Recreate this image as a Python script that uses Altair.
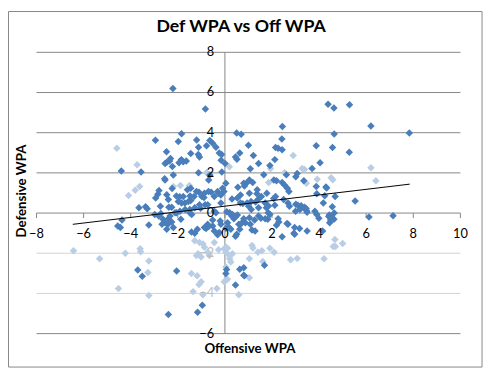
import altair as alt
import pandas as pd

# ---- data ----
dark_x = [
    -2.21, -0.83, -2.95, -1.84, -1.98, -1.20, -0.78, -0.64, -0.52, -0.38, -1.12, -0.24, -0.14,
    -2.48, -1.45, -1.13, -1.08, -2.31, -2.35, -2.47, -2.54, -2.23, -1.85, -1.77, -1.95, -1.64,
    -0.16, 0.01, -3.56, -4.40, -2.19, -2.56, -2.54, -0.64, -0.69, -1.12, -0.13, 0.04, -2.24,
    -2.80, -2.85, -2.94, -2.47, -2.06, -1.92, -1.48, -1.10, -0.70, -0.58, -0.27, -0.17, -0.04,
    0.55, 0.80, 0.30, -0.89, -0.84, -1.84, -1.55, -2.38, -1.69, -1.03, -3.65, -3.37, -3.30,
    -0.45, 0.08, 0.21, -1.77, -1.59, -1.45, -1.31, -1.21, -0.98, -0.87, -0.45, -0.31, -0.10,
    -1.98, -1.70, -1.45, -0.73, -1.49, -1.28, -1.08, -0.17, -2.40, -2.26, -2.74,
    # upper right
    4.38, 4.63, 5.29, 6.20, 7.83, 4.64, 2.44, 2.42, 0.50, 0.69, 1.00, 0.63, 0.45, 0.51, 1.21,
    2.15, 2.26, 2.43, 2.12, 3.88, 4.57, 5.28, 4.04, 3.70, 1.43, 1.91, 1.08, 1.65, 3.07, 3.01,
    2.61, 4.29, 3.88, 3.35, 2.08, 2.19, 2.43, 2.54, 2.65, 2.72, 2.49, 2.15, 2.07, 1.78, 1.37,
    1.36, 1.55, 1.43, 1.18, 1.04, 0.91, 0.83, 1.04, 0.66, 0.53, 1.11, 0.94, 1.30, 1.71, 2.12,
    1.76, 1.85, 3.01, 3.24, 3.45, 3.90, 4.24, 4.68, 4.32, 4.18, 4.56, 5.53, 3.00, 3.82, 4.43,
    4.64, 6.12, 7.14, 2.74, 3.10, 3.38, 3.46, 0.66, 0.76, 1.01, 1.12, 1.43, 2.68, 3.19, 3.49,
    1.84, 0.20,
    # lower right
    3.90, 3.99, 4.41, 4.56, 4.63, 4.45, 4.49, 2.68, 2.96, 3.17, 2.96, 3.49, 4.15, 2.93, 2.43,
    2.64, 2.19, 2.26, 2.29, 1.91, 1.43, 1.53, 1.71, 1.82, 1.26, 1.04, 1.08, 1.15, 1.28, 0.80,
    0.73, 0.66, 0.87, 0.45, 0.53, 0.38, 0.29, 0.11, 0.18, 0.25, 0.45, 0.63, 0.83, 1.68, 0.07,
    0.04, 0.45, 0.80, 0.80, 0.04, 0.32, 0.50, 0.59, 0.63,
    # lower left
    -2.40, -0.96, -1.16, -3.70, -3.51, -2.05, -4.55, -4.44, -4.37, -3.23, -2.98, -2.81, -2.72,
    -2.63, -2.54, -2.67, -2.42, -2.40, -2.33, -2.26, -2.12, -2.47, -2.19, -1.87, -1.91, -1.49,
    -1.41, -1.42, -1.28, -1.17, -0.80, -0.69, -0.52, -0.38, -0.20, -0.17, -0.24, -0.31, -0.87,
    -0.73, -0.52, -0.45, -2.05,
]
dark_y = [
    6.20, 5.18, 3.62, 3.95, 3.56, 3.64, 3.35, 3.61, 3.48, 3.28, 3.28, 2.99, 2.91,
    3.05, 2.96, 2.91, 2.79, 2.71, 2.59, 2.53, 2.47, 2.32, 2.66, 2.55, 2.50, 2.59,
    2.63, 2.47, 2.04, 2.09, 1.89, 1.71, 1.65, 1.89, 1.65, 2.01, 2.04, 1.49, 1.22,
    1.12, 0.94, 0.75, 0.91, 0.85, 0.81, 0.85, 1.04, 1.07, 1.04, 0.99, 0.90, 1.07,
    1.29, 1.49, 0.70, 0.78, 0.41, 0.50, 0.57, 0.29, 0.18, 0.24, 0.26, 0.31, 0.21,
    0.09, 0.06, -0.02, 0.83, 1.16, 1.24, 0.83, 1.07, 0.83, 0.99, 0.83, 1.07, 1.24,
    0.58, 0.50, 0.62, 0.42, 0.18, 0.26, 0.42, 0.50, 0.67, 0.29, 0.34,
    # upper right
    5.42, 5.23, 5.39, 4.33, 3.98, 3.93, 4.31, 3.69, 3.98, 3.92, 3.38, 2.99, 2.79, 2.68, 2.87,
    3.26, 3.23, 3.15, 2.66, 3.35, 3.26, 3.03, 2.50, 2.22, 2.47, 2.37, 2.20, 1.91, 1.97, 1.81,
    1.91, 1.30, 1.32, 1.61, 1.65, 1.61, 1.52, 1.39, 1.24, 1.07, 0.68, 0.83, 0.73, 0.99, 1.16,
    0.96, 0.83, 0.70, 1.52, 1.65, 1.49, 1.35, 0.99, 0.90, 0.75, 0.58, 0.50, 0.55, 0.50, 0.39,
    0.26, 0.35, 0.44, 0.36, 0.23, 0.96, 0.86, 0.83, 1.25, 0.50, 0.32, 0.60, 0.09, 0.09, -0.10,
    0.00, -0.20, -0.13, 0.34, 0.39, 0.29, 0.13, 0.50, 0.47, 0.34, 0.18, 0.26, 0.50, 0.18, 0.04,
    0.01, 0.01,
    # lower right
    -0.07, -0.26, -0.17, -0.23, -0.31, -0.48, -0.35, -0.56, -0.72, -0.77, -1.05, -0.89, -0.89, -1.00, -1.18,
    -0.52, -0.61, -0.28, -0.44, -0.07, -0.15, -0.26, -0.28, -0.31, -0.35, -0.23, -0.56, -0.84, -0.89, -0.28,
    -0.48, -0.56, -0.48, -0.18, -0.10, -0.28, -0.15, -0.48, -0.72, -0.80, -1.16, -2.80, -3.12, -2.60, -2.81,
    -3.01, -3.58, -3.09, -2.72, -0.75, -0.07, -1.05, -0.56, -0.80,
    # lower left
    -5.05, -4.59, -4.94, -2.83, -3.14, -2.88, -0.64, -0.72, -0.35, -0.59, -0.07, -0.15, -0.02,
    -0.31, -0.48, -0.56, -0.56, -0.28, -0.15, -0.44, 0.01, -0.80, -0.72, -0.31, 0.09, 0.01,
    -0.07, -0.94, -1.01, -0.80, -0.77, -0.67, -0.35, 0.01, -0.40, -0.56, -0.97, -1.08, -0.72,
    -0.56, -0.64, -0.89, 0.01,
]
light_x = [
    -4.59, -3.73, -0.78, 0.19, -2.19, -1.89, -1.51, -3.62, -3.81, -4.09, 2.90, 1.94, 3.28, 3.38,
    2.53, 6.20, 6.41, 4.51, 4.58, 3.92, 3.46, 1.86,
    4.67, 4.60, 4.69, 5.00, 2.79, 3.07, 4.21, 1.15, 1.19, 1.57, 1.40, 1.91, 2.09, 1.04, 1.04,
    1.61, 0.59, 0.11, 0.04, 0.05, 0.18, 0.20, 0.25, 0.32,
    -1.28, -1.08, -0.93, -0.87, -1.14, -1.21, -1.01, -0.73, -0.66, -0.03, 0.04, -1.42, -1.01,
    -1.35, -0.93, -0.03, -6.43, -5.32, -4.23, -3.60, -3.58, -3.23, -3.27, -4.52, -3.23, -1.10,
    -1.18, -0.45, -0.27, -0.34, 0.11, 0.04,
]
light_y = [
    3.23, 2.40, 2.01, 2.30, 1.32, 1.37, 1.37, 1.32, 1.14, 0.88, 2.87, 2.22, 2.22, 2.17,
    2.01, 2.25, 1.61, 1.76, 1.66, 1.68, 1.49, 1.52,
    -1.31, -1.67, -1.67, -1.51, -2.32, -2.26, -2.27, -1.62, -1.74, -1.87, -1.95, -1.75, -1.95, -2.27, -3.22,
    -2.41, -4.07, -3.30, -2.68, -1.70, -2.11, -2.27, -2.44, -2.03,
    -1.38, -1.46, -1.54, -1.70, -2.03, -2.11, -2.19, -1.95, -2.11, -1.78, -1.95, -3.01, -3.42,
    -3.91, -4.07, -3.42, -1.87, -2.27, -2.00, -1.78, -1.92, -2.39, -2.96, -3.75, -4.10, -3.55,
    -3.12, -1.46, -1.82, -3.75, -1.75, -3.34,
]
trend_x = [-6.46, 7.85]
trend_y = [-0.56, 1.44]

x_ticks = [-8, -6, -4, -2, 0, 2, 4, 6, 8, 10]
y_ticks = [-6, -4, -2, 0, 2, 4, 6, 8]
faded_y_ticks = [-4, -2]

title_text = "Def WPA vs Off WPA"
x_title = "Offensive WPA"
y_title = "Defensive WPA"

# ---- styling ----
DARK = "#4a7ebb"
LIGHT = "#b9cde5"
GRID = "#868686"
GRID_LIGHT = "#d2d2d2"
FONT = "Lato"

W, H = 431, 286
xs = alt.Scale(domain=[-8, 10], nice=False, zero=False)
ys = alt.Scale(domain=[-6, 8], nice=False, zero=False)


def X(f):
    return alt.X(f, type="quantitative", scale=xs, axis=None)


def Y(f):
    return alt.Y(f, type="quantitative", scale=ys, axis=None)


grid_df = pd.DataFrame({
    "v": y_ticks,
    "c": [GRID_LIGHT if v in faded_y_ticks else GRID for v in y_ticks],
})
grid = alt.Chart(grid_df).mark_rule(strokeWidth=1).encode(
    y=Y("v"), color=alt.Color("c:N", scale=None)
)

vaxis = alt.Chart(pd.DataFrame({"v": [0]})).mark_rule(color=GRID, strokeWidth=1).encode(x=X("v"))

tick_df = pd.DataFrame({"v": x_ticks, "a": [0] * len(x_ticks), "b": [-0.25] * len(x_ticks)})
xticks = alt.Chart(tick_df).mark_rule(color=GRID, strokeWidth=1).encode(
    x=X("v"), y=Y("a"), y2="b:Q"
)

light_pts = alt.Chart(pd.DataFrame({"x": light_x, "y": light_y})).mark_point(
    shape="diamond", filled=True, size=58, color=LIGHT, opacity=1
).encode(x=X("x"), y=Y("y"))

dark_pts = alt.Chart(pd.DataFrame({"x": dark_x, "y": dark_y})).mark_point(
    shape="diamond", filled=True, size=58, color=DARK, opacity=1
).encode(x=X("x"), y=Y("y"))

trend = alt.Chart(pd.DataFrame({"x": trend_x, "y": trend_y})).mark_line(
    color="black", strokeWidth=1
).encode(x=X("x"), y=Y("y"))

xlab = alt.Chart(pd.DataFrame({"v": x_ticks, "z": [0] * len(x_ticks)})).mark_text(
    font=FONT, fontSize=13, color="black", align="center", baseline="middle", dy=21
).encode(x=X("v"), y=Y("z"), text=alt.Text("v:Q"))

ylab_df = pd.DataFrame({
    "v": y_ticks,
    "z": [0] * len(y_ticks),
    "c": ["#bdbdbd" if v in faded_y_ticks else "black" for v in y_ticks],
})
ylab = alt.Chart(ylab_df).mark_text(
    font=FONT, fontSize=13, align="right", baseline="middle", dx=-11
).encode(x=X("z"), y=Y("v"), text=alt.Text("v:Q"), color=alt.Color("c:N", scale=None))

one = pd.DataFrame({"t": [title_text], "xt": [x_title], "yt": [y_title]})
title = alt.Chart(one).mark_text(
    font=FONT, fontSize=18, fontWeight="bold", align="center", baseline="middle", color="black"
).encode(x=alt.value(208), y=alt.value(-26), text="t:N")
xtitle = alt.Chart(one).mark_text(
    font=FONT, fontSize=13.5, fontWeight="bold", align="center", baseline="middle", color="black"
).encode(x=alt.value(217), y=alt.value(302), text="xt:N")
ytitle = alt.Chart(one).mark_text(
    font=FONT, fontSize=13.5, fontWeight="bold", align="center", baseline="middle", color="black",
    angle=270
).encode(x=alt.value(-15), y=alt.value(141), text="yt:N")

border = alt.Chart(one).mark_rect(fill=None, stroke=GRID, strokeWidth=1).encode(
    x=alt.value(-28.5), x2=alt.value(453), y=alt.value(-41.5), y2=alt.value(320)
)

chart = alt.layer(
    border, grid, vaxis, xticks, light_pts, dark_pts, trend, xlab, ylab, title, xtitle, ytitle
).properties(
    width=W, height=H,
    autosize=alt.AutoSizeParams(type="none"),
    padding={"left": 29, "top": 42, "right": 24, "bottom": 39},
    background="white",
).configure_view(stroke=None)

chart.save("out.html", embed_options={"renderer": "svg", "actions": False})
